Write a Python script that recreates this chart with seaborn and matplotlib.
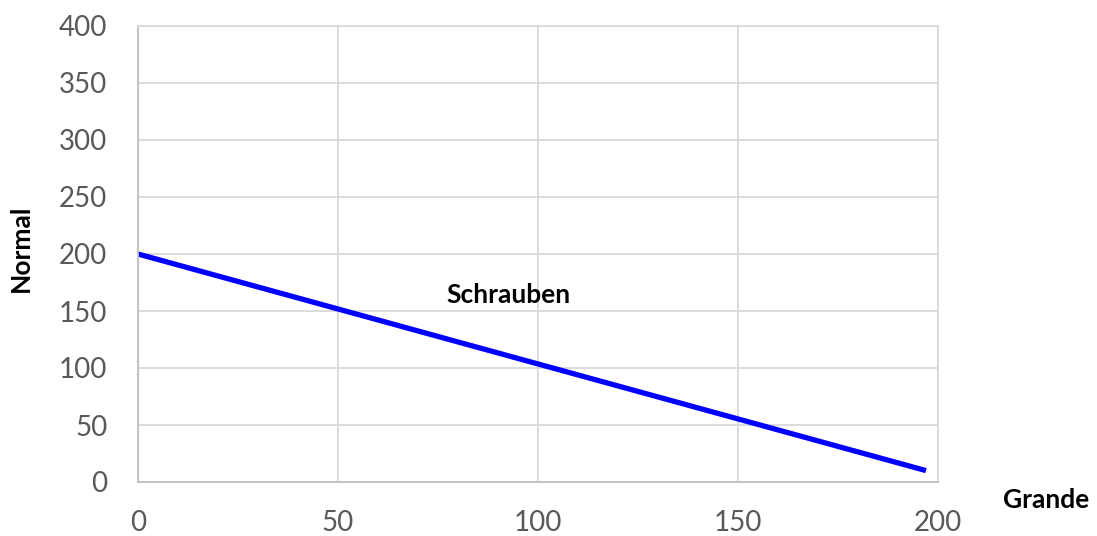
import matplotlib
matplotlib.use("Agg")
import matplotlib.pyplot as plt
import seaborn as sns
import pandas as pd

# Budget line: quantity of "Grande" vs "Normal"
grande = [0, 197]
normal = [200, 10]
x_ticks = [0, 50, 100, 150, 200]
y_ticks = [0, 50, 100, 150, 200, 250, 300, 350, 400]
line_label = "Schrauben"

sns.set_theme(style="whitegrid")
plt.rcParams["font.family"] = ["Lato", "DejaVu Sans"]

fig = plt.figure(figsize=(10.97, 5.36), dpi=100)
ax = fig.add_axes([138 / 1097, 1 - 482 / 536, 800 / 1097, 456 / 536])

df = pd.DataFrame({"Grande": grande, "Normal": normal})
sns.lineplot(data=df, x="Grande", y="Normal", ax=ax, color="#0000FF",
             linewidth=3.8, solid_capstyle="butt")

ax.set_xlim(0, 200)
ax.set_ylim(0, 400)
ax.set_xticks(x_ticks)
ax.set_yticks(y_ticks)
ax.grid(True, color="#D9D9D9", linewidth=1.3)
for s in ax.spines.values():
    s.set_color("#D9D9D9")
    s.set_linewidth(1.3)
ax.spines["left"].set_color("#BFBFBF")
ax.spines["bottom"].set_color("#BFBFBF")

ax.tick_params(axis="both", labelsize=20, colors="#595959", length=0)
ax.tick_params(axis="x", pad=20)
ax.tick_params(axis="y", pad=22)

ax.set_xlabel("")
ax.set_ylabel("")
fig.text(21 / 1097, 1 - 248 / 536, "Normal", rotation=90, fontsize=19,
         fontweight="bold", ha="center", va="center", color="black")
fig.text(1046 / 1097, 1 - 500 / 536, "Grande", fontsize=19,
         fontweight="bold", ha="center", va="center", color="black")
ax.text(92.5, 164, line_label, fontsize=19, fontweight="bold",
        ha="center", va="center", color="black")

fig.savefig("out.png", dpi=100, facecolor="white")
